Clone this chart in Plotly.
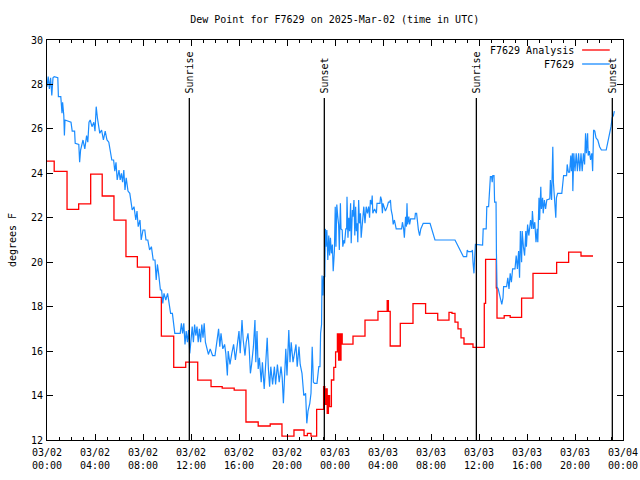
import pandas as pd
import plotly.graph_objects as go

title_text = "Dew Point for F7629 on 2025-Mar-02 (time in UTC)"
start_time = pd.Timestamp("2025-03-02 00:00")

# F7629 Analysis (hourly step series): hours after start, degrees F
red_hours = [0, 0.6, 1.67, 2.64, 3.64, 4.6, 5.58, 6.58, 7.53, 8.55, 9.53, 10.56, 11.56, 12.56, 13.67,
             14.6, 15.6, 16.58, 17.6, 18.6, 19.58, 20.58, 21.42, 21.7, 22.0, 22.47, 23.05, 23.15, 23.25, 23.35,
             23.45, 23.55, 23.7, 23.9, 24.05, 24.2, 24.3, 24.35, 24.45, 24.5, 24.6, 25.5, 26.5, 27.58, 28.35,
             28.45, 28.6, 29.44, 30.5, 31.55, 32.56, 33.5, 33.75, 34.0, 34.25, 34.5, 34.75, 35.5, 36.44, 36.55,
             37.44, 37.5, 38.1, 38.6, 39.55, 40.5, 42.47, 43.47, 44.5, 45.5]
red_vals = [24.55, 24.09, 22.38, 22.63, 23.96, 22.98, 21.89, 20.25, 19.78, 18.42, 16.67, 15.27, 15.5, 14.69, 14.4,
            14.33, 14.24, 12.81, 12.63, 12.72, 12.17, 12.45, 12.2, 12.3, 12.17, 13.38, 14.4, 13.6, 14.3, 13.2,
            14.0, 13.5, 14.7, 15.27, 15.97, 16.77, 15.6, 16.77, 15.6, 16.77, 16.31, 16.67, 17.39, 17.79, 18.27,
            17.79, 16.23, 17.25, 18.14, 17.7, 17.39, 17.74, 17.7, 17.3, 17.0, 16.6, 16.32, 16.17, 18.15, 20.13,
            18.85, 17.48, 17.6, 17.52, 18.38, 19.5, 19.99, 20.45, 20.28, 20.28]

# F7629 observations: (hours after start, degrees F)
blue_obs = [
    (0.0, 27.9), (0.1, 28.35), (0.2, 27.8), (0.3, 28.3), (0.4, 27.5), (0.5, 28.3), (0.6, 28.35), (0.8, 28.3),
    (0.9, 28.3), (0.95, 27.45), (1.15, 27.45), (1.25, 26.7), (1.3, 27.2), (1.4, 26.6), (1.45, 25.7), (1.5, 26.4),
    (1.8, 26.35), (2.0, 26.3), (2.1, 25.9), (2.3, 25.9), (2.35, 25.35), (2.65, 25.3), (2.72, 24.5), (2.8, 25.05),
    (3.0, 25.5), (3.15, 25.1), (3.3, 25.7), (3.4, 25.4), (3.5, 26.3), (3.6, 26.4), (3.75, 26.1), (3.9, 26.3),
    (4.0, 25.9), (4.1, 27.0), (4.2, 26.5), (4.3, 26.2), (4.4, 25.8), (4.55, 25.95), (4.7, 25.5), (4.85, 25.9),
    (5.0, 25.5), (5.15, 25.4), (5.25, 25.0), (5.4, 24.6), (5.55, 24.6), (5.65, 24.1), (5.75, 24.5), (5.85, 23.7),
    (6.0, 24.15), (6.1, 23.7), (6.2, 24.0), (6.3, 23.6), (6.4, 24.15), (6.5, 23.25), (6.6, 23.8), (6.75, 23.2),
    (6.9, 23.1), (7.0, 22.8), (7.1, 22.35), (7.25, 22.5), (7.4, 21.9), (7.5, 22.3), (7.6, 21.6), (7.75, 21.9),
    (7.85, 21.0), (8.0, 21.45), (8.15, 21.45), (8.25, 21.0), (8.4, 21.0), (8.55, 20.55), (8.7, 20.7), (8.85, 20.1),
    (9.0, 20.1), (9.1, 19.2), (9.2, 19.9), (9.3, 19.5), (9.45, 18.75), (9.55, 18.75), (9.65, 18.15), (9.75, 18.6),
    (9.9, 18.3), (10.05, 18.6), (10.15, 18.15), (10.3, 17.7), (10.45, 17.7), (10.55, 17.25), (10.65, 16.8),
    (11.1, 16.8), (11.2, 17.25), (11.3, 16.8), (11.4, 17.25), (11.5, 16.3), (11.6, 16.9), (11.7, 16.4),
    (11.8, 16.95), (11.9, 15.9), (12.0, 16.5),
    (12.1, 17.1), (12.2, 16.4), (12.3, 17.2), (12.4, 16.7), (12.5, 17.1), (12.6, 16.4), (12.7, 17.0), (12.8, 16.4),
    (12.9, 17.2), (13.0, 16.6), (13.1, 17.25), (13.2, 16.4), (13.3, 16.2), (13.45, 15.85), (13.6, 16.1),
    (13.8, 15.8), (14.0, 15.8), (14.15, 16.3), (14.3, 17.0), (14.4, 16.2), (14.5, 16.8), (14.65, 16.1),
    (14.8, 16.3), (14.9, 15.9), (15.03, 14.9), (15.1, 16.0), (15.25, 15.4), (15.4, 15.9), (15.55, 16.3),
    (15.7, 15.6), (15.85, 16.2), (16.0, 16.9), (16.1, 15.9), (16.25, 17.4), (16.35, 16.5), (16.5, 15.8),
    (16.6, 16.4), (16.75, 16.8), (16.85, 16.1), (16.95, 15.0), (17.05, 15.4), (17.2, 16.2), (17.33, 17.4),
    (17.4, 15.5), (17.5, 16.9), (17.6, 15.2), (17.7, 15.7), (17.85, 14.6), (17.95, 15.5), (18.1, 14.3),
    (18.2, 15.2), (18.35, 16.6), (18.45, 15.2), (18.55, 14.4), (18.65, 15.3), (18.8, 14.5), (18.95, 15.3),
    (19.05, 14.5), (19.2, 15.4), (19.35, 14.6), (19.5, 15.3), (19.6, 14.8), (19.7, 13.65), (19.8, 15.2),
    (19.9, 16.1), (20.0, 14.9), (20.15, 16.95), (20.25, 15.5), (20.35, 16.4), (20.5, 15.5), (20.6, 15.9),
    (20.75, 16.3), (20.85, 15.3), (21.0, 16.2), (21.1, 15.4), (21.25, 15.0), (21.4, 14.0), (21.55, 14.1),
    (21.65, 12.75), (21.75, 13.3), (21.9, 13.65), (22.0, 14.1), (22.1, 16.2), (22.2, 14.6), (22.3, 14.55),
    (22.5, 14.55), (22.65, 15.3),
    (22.75, 15.3), (22.8, 16.8), (22.88, 17.2), (22.92, 19.4), (23.0, 18.5), (23.05, 19.35), (23.15, 19.35),
    (23.2, 21.5), (23.25, 20.7), (23.32, 21.45), (23.4, 20.1), (23.48, 21.2), (23.55, 20.3), (23.62, 21.1),
    (23.7, 20.4), (23.78, 20.8), (23.85, 19.6), (23.95, 20.5), (24.02, 22.5), (24.08, 20.7), (24.15, 22.6),
    (24.22, 22.1), (24.3, 21.7), (24.36, 20.55), (24.45, 22.65), (24.5, 21.5), (24.6, 21.45), (24.65, 20.7),
    (24.75, 21.0), (24.8, 20.85), (24.9, 21.5), (24.97, 21.5), (25.0, 22.95), (25.08, 21.1), (25.15, 22.0),
    (25.22, 21.4), (25.3, 22.65), (25.35, 20.85), (25.45, 22.35), (25.5, 22.05), (25.58, 22.8), (25.65, 21.2),
    (25.72, 22.5), (25.78, 21.4), (25.85, 21.75), (25.9, 20.9), (25.97, 22.8), (26.04, 21.75), (26.12, 22.2),
    (26.18, 21.1), (26.28, 21.9), (26.4, 22.5), (26.5, 21.75), (26.6, 22.5), (26.7, 22.2), (26.8, 22.5),
    (26.88, 22.0), (26.95, 22.8), (27.05, 22.6), (27.1, 23.0), (27.15, 22.2), (27.3, 22.4), (27.45, 22.2),
    (27.5, 22.65), (27.75, 22.65), (27.8, 22.95), (27.88, 22.8), (27.95, 22.2), (28.0, 22.65), (28.1, 22.5),
    (28.2, 22.3), (28.35, 22.5), (28.45, 22.7), (28.55, 22.7), (28.62, 22.8), (28.68, 22.35), (28.78, 22.1),
    (28.85, 21.7), (28.95, 21.9), (29.1, 21.5), (29.55, 21.5), (29.62, 21.8), (29.72, 21.5), (29.78, 21.1),
    (29.88, 22.05), (29.95, 21.6), (30.0, 22.65), (30.05, 21.7), (30.15, 22.05), (30.22, 21.7), (30.3, 21.95),
    (30.65, 21.95), (30.7, 22.2), (30.8, 22.2), (30.88, 21.75), (30.95, 21.45), (31.05, 21.2), (31.15, 21.5),
    (31.35, 21.75), (31.92, 21.75), (32.33, 21.0), (34.0, 21.0), (34.7, 20.25), (34.97, 20.25), (35.02, 20.55),
    (35.1, 20.48), (35.39, 20.48), (35.45, 20.55), (35.5, 20.0), (35.58, 19.5), (35.62, 20.0), (35.7, 20.8),
    (36.3, 20.77),
    (36.35, 21.5), (36.6, 21.5), (36.65, 22.5), (36.8, 22.5), (36.85, 23.1), (36.95, 23.85), (37.05, 23.85),
    (37.1, 23.6), (37.15, 23.9), (37.25, 23.9), (37.3, 22.7), (37.42, 22.7), (37.45, 20.5), (37.5, 18.9),
    (37.6, 18.8), (37.7, 18.6), (37.8, 18.4), (37.9, 18.1), (38.0, 18.4), (38.05, 18.9), (38.3, 18.9),
    (38.4, 19.3), (38.5, 18.8), (38.6, 19.5), (38.7, 19.1), (38.8, 19.7), (39.0, 19.7), (39.1, 20.3),
    (39.2, 19.7), (39.3, 20.5), (39.38, 19.3), (39.45, 21.4), (39.55, 20.0), (39.6, 21.4), (39.7, 20.7),
    (39.8, 20.3), (39.9, 21.4), (39.95, 20.7), (40.05, 21.7), (40.15, 21.2), (40.3, 21.9), (40.4, 21.5),
    (40.45, 22.3), (40.55, 21.5), (40.65, 21.8), (40.75, 20.9), (40.85, 21.5), (40.9, 20.9), (41.0, 22.9),
    (41.05, 21.9), (41.15, 23.4), (41.2, 22.4), (41.3, 22.9), (41.35, 22.2), (41.45, 22.8), (41.55, 22.4),
    (41.65, 22.8), (41.9, 22.85), (41.95, 23.7), (42.05, 22.8), (42.15, 25.2), (42.2, 23.6), (42.3, 22.8),
    (42.4, 22.0), (42.45, 22.9), (42.55, 23.1), (42.9, 23.1), (43.0, 23.55), (43.05, 23.9), (43.3, 23.9),
    (43.35, 24.4), (43.45, 24.05), (43.55, 24.05), (43.65, 24.8), (43.7, 24.1), (43.78, 24.9), (43.82, 23.2),
    (43.9, 24.9), (44.0, 24.1), (44.1, 24.9), (44.2, 24.1), (44.3, 24.9), (44.4, 24.1), (44.5, 24.9),
    (44.6, 24.1), (44.7, 24.9), (44.8, 24.4), (44.88, 25.8), (44.95, 24.9), (45.05, 25.8), (45.1, 24.8),
    (45.2, 25.0), (45.3, 24.6), (45.4, 24.9), (45.47, 24.1), (45.55, 25.95), (45.65, 25.9), (45.75, 25.6),
    (45.9, 25.5), (46.05, 25.2), (46.2, 25.05), (46.6, 25.05), (46.75, 25.4), (46.9, 25.8), (47.0, 26.1),
    (47.1, 26.5), (47.2, 26.6), (47.28, 26.8),
]

sun_labels = ["Sunrise", "Sunset", "Sunrise", "Sunset"]
sun_hours = [11.86, 23.11, 35.78, 47.11]

series_names = ["F7629 Analysis", "F7629"]
series_colors = ["#ff0000", "#1a8cff"]

y_ticks = [12, 14, 16, 18, 20, 22, 24, 26, 28, 30]
x_tick_hours = [0, 4, 8, 12, 16, 20, 24, 28, 32, 36, 40, 44, 48]

FONT = "DejaVu Sans Mono"


def to_time(hours):
    return [start_time + pd.Timedelta(hours=h) for h in hours]


blue_hours = [p[0] for p in blue_obs]
blue_vals = [p[1] for p in blue_obs]

fig = go.Figure()
fig.add_trace(go.Scatter(x=to_time(red_hours), y=red_vals, mode="lines", line_shape="hv",
                         line=dict(color=series_colors[0], width=1.3), name=series_names[0],
                         showlegend=False))
fig.add_trace(go.Scatter(x=to_time(blue_hours), y=blue_vals, mode="lines",
                         line=dict(color=series_colors[1], width=1.2), name=series_names[1],
                         showlegend=False))

# Sunrise / sunset markers
for lab, h in zip(sun_labels, sun_hours):
    t = start_time + pd.Timedelta(hours=h)
    fig.add_shape(type="line", xref="x", yref="paper", x0=t, x1=t, y0=0, y1=0.855,
                  line=dict(color="black", width=1.3))
    fig.add_annotation(x=t, y=0.862, xref="x", yref="paper", text=lab, textangle=-90,
                       showarrow=False, xanchor="center", yanchor="bottom",
                       font=dict(family=FONT, size=10, color="black"))

# Legend (gnuplot style: text right-aligned, sample line on the right)
legend_rows_y = [0.975, 0.94]
for name, col, yy in zip(series_names, series_colors, legend_rows_y):
    fig.add_annotation(x=0.9185, y=yy, xref="paper", yref="paper", text=name, showarrow=False,
                       xanchor="right", yanchor="middle",
                       font=dict(family=FONT, size=10, color="black"))
    fig.add_shape(type="line", xref="paper", yref="paper", x0=0.929, x1=0.977, y0=yy, y1=yy,
                  line=dict(color=col, width=1.3))

fig.update_layout(
    width=640, height=480,
    margin=dict(l=47, r=17, t=40, b=40, autoexpand=False),
    paper_bgcolor="white", plot_bgcolor="white",
    font=dict(family=FONT, size=10, color="black"),
    title=dict(text=title_text, x=0.523, xanchor="center", y=0.96, yanchor="middle",
               font=dict(family=FONT, size=10, color="black")),
    showlegend=False,
)

fig.update_xaxes(
    range=[start_time, start_time + pd.Timedelta(hours=48)],
    tickmode="array", tickvals=to_time(x_tick_hours),
    ticktext=[(start_time + pd.Timedelta(hours=h)).strftime("%m/%d<br>%H:%M") for h in x_tick_hours],
    ticks="inside", ticklen=6, tickcolor="black", tickwidth=1, ticklabelstandoff=3,
    minor=dict(ticks="inside", ticklen=3, dtick=3600000, tickcolor="black", showgrid=False),
    showline=True, linecolor="black", linewidth=1, mirror="ticks",
    showgrid=False, zeroline=False, automargin=False,
    tickfont=dict(family=FONT, size=10, color="black"),
)
fig.update_yaxes(
    range=[12, 30], tickmode="array", tickvals=y_ticks,
    ticks="inside", ticklen=6, tickcolor="black", tickwidth=1, ticklabelstandoff=1,
    showline=True, linecolor="black", linewidth=1, mirror="ticks",
    showgrid=False, zeroline=False, automargin=False,
    title=dict(text="degrees F", standoff=12, font=dict(family=FONT, size=10, color="black")),
    tickfont=dict(family=FONT, size=10, color="black"),
)

fig.write_html("out.html")
